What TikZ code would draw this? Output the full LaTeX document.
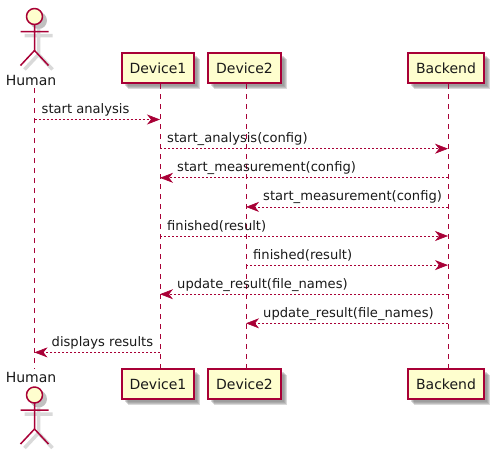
\documentclass[tikz,border=0pt]{standalone}
\usepackage{fontspec}
\setmainfont{DejaVu Sans}
\usetikzlibrary{arrows.meta, shadows}
\definecolor{umlline}{HTML}{A80036}
\definecolor{umlfill}{HTML}{FEFECE}
\definecolor{umlshadow}{HTML}{808080}

\begin{document}
\begin{tikzpicture}[x=1pt, y=-1pt,
    every node/.style={font=\fontsize{13.1}{15}\selectfont, text=black!90},
    boxtext/.style={font=\fontsize{14}{16}\selectfont},
    softshadow/.style={drop shadow={shadow xshift=#1pt, shadow yshift=-#1pt, fill=umlshadow, opacity=0.3}},
    part/.style={boxtext, draw=umlline, fill=umlfill, line width=1.3pt, minimum width=#1, minimum height=30pt,
        inner sep=0pt, softshadow=6, softshadow=5, softshadow=4, softshadow=3},
    lifeline/.style={draw=umlline, line width=0.8pt, dash pattern=on 5pt off 5pt},
    msg/.style={draw=umlline, line width=0.8pt, dash pattern=on 2pt off 2pt,
        -{Stealth[length=13pt, width=10pt, inset=4pt, line width=0.6pt]}},
    msgtext/.style={anchor=base west, inner sep=0pt},
    figure/.style={line width=#1, line join=round},
    actor/.pic={
        % shadow first, offset down and right
        \fill[umlshadow!50] (4,4) circle (8.5);
        \draw[umlshadow!30, figure=3.5pt] (4,12) -- (4,38) (-10,19) -- (18,19)
            (-10,53) -- (4,38) -- (18,53);
        \draw[umlline, fill=umlfill, figure=1.5pt] (0,0) circle (8);
        \draw[umlline, figure=1.5pt] (0,8) -- (0,34) (-14,15) -- (14,15)
            (-14,49) -- (0,34) -- (14,49);
    }]
    \useasboundingbox (0,0) rectangle (497,451);

    % Lifeline positions, a little right of each box centre
    \def\hx{34.5}
    \def\ax{160}
    \def\bx{246}
    \def\cx{448}

    % Actors and their names
    \pic at (\hx,16.5) {actor};
    \pic at (\hx,395) {actor};
    \node[boxtext] (humantop) at (31,80) {Human};
    \node[boxtext] (humanbot) at (31,377) {Human};

    % Boxes, top and bottom
    \node[part=72pt] (devonetop) at (158,68) {Device1};
    \node[part=73pt] (devtwotop) at (244.5,68) {Device2};
    \node[part=76pt] (backtop) at (446,68) {Backend};
    \node[part=72pt] (devonebot) at (158,384) {Device1};
    \node[part=73pt] (devtwobot) at (244.5,384) {Device2};
    \node[part=76pt] (backbot) at (446,384) {Backend};

    % Lifelines
    \coordinate (hline) at (\hx,88);
    \coordinate (aline) at (\ax,84);
    \coordinate (bline) at (\bx,84);
    \coordinate (cline) at (\cx,84);
    \draw[lifeline] (hline) -- (hline |- humanbot.north);
    \draw[lifeline] (aline) -- (aline |- devonebot.north);
    \draw[lifeline] (bline) -- (bline |- devtwobot.north);
    \draw[lifeline] (cline) -- (cline |- backbot.north);

    % Messages, one row every 29
    \foreach \rname/\ry in {ra/119.5, rb/148.7, rc/177.8, rd/206.9, re/236, rf/265.1, rg/294.2, rh/323.3, ri/352.4}
        \coordinate (\rname) at (0,\ry);

    \draw[msg] (hline |- ra) -- (aline |- ra);
    \node[msgtext] (ta) at ([shift={(7,-6)}]hline |- ra) {start analysis};
    \draw[msg] (aline |- rb) -- (cline |- rb);
    \node[msgtext] (tb) at ([shift={(7,-6)}]aline |- rb) {start\_analysis(config)};
    \draw[msg] (cline |- rc) -- (aline |- rc);
    \node[msgtext] (tc) at ([shift={(17,-6)}]aline |- rc) {start\_measurement(config)};
    \draw[msg] (cline |- rd) -- (bline |- rd);
    \node[msgtext] (td) at ([shift={(17,-6)}]bline |- rd) {start\_measurement(config)};
    \draw[msg] (aline |- re) -- (cline |- re);
    \node[msgtext] (te) at ([shift={(7,-6)}]aline |- re) {finished(result)};
    \draw[msg] (bline |- rf) -- (cline |- rf);
    \node[msgtext] (tf) at ([shift={(7,-6)}]bline |- rf) {finished(result)};
    \draw[msg] (cline |- rg) -- (aline |- rg);
    \node[msgtext] (tg) at ([shift={(17,-6)}]aline |- rg) {update\_result(file\_names)};
    \draw[msg] (cline |- rh) -- (bline |- rh);
    \node[msgtext] (th) at ([shift={(17,-6)}]bline |- rh) {update\_result(file\_names)};
    \draw[msg] (aline |- ri) -- (hline |- ri);
    \node[msgtext] (ti) at ([shift={(17,-6)}]hline |- ri) {displays results};
\end{tikzpicture}
\end{document}
